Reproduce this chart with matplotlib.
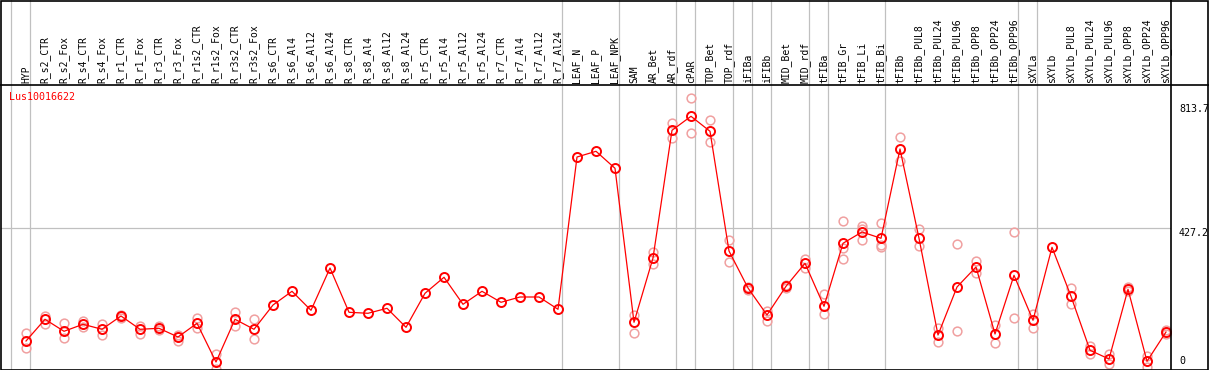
import matplotlib
matplotlib.use('Agg')
import matplotlib.pyplot as plt
from matplotlib.lines import Line2D
from matplotlib.patches import Rectangle
from matplotlib.transforms import blended_transform_factory

gene = "Lus10016622"

samples = [
    "HYP", "R_s2_CTR", "R_s2_Fox", "R_s4_CTR", "R_s4_Fox", "R_r1_CTR", "R_r1_Fox",
    "R_r3_CTR", "R_r3_Fox", "R_r1s2_CTR", "R_r1s2_Fox", "R_r3s2_CTR", "R_r3s2_Fox",
    "R_s6_CTR", "R_s6_Al4", "R_s6_Al12", "R_s6_Al24", "R_s8_CTR", "R_s8_Al4",
    "R_s8_Al12", "R_s8_Al24", "R_r5_CTR", "R_r5_Al4", "R_r5_Al12", "R_r5_Al24",
    "R_r7_CTR", "R_r7_Al4", "R_r7_Al12", "R_r7_Al24", "LEAF_N", "LEAF_P", "LEAF_NPK",
    "SAM", "AR_Bet", "AR_rdf", "cPAR", "TOP_Bet", "TOP_rdf", "iFIBa", "iFIBb",
    "MID_Bet", "MID_rdf", "tFIBa", "tFIB_Gr", "tFIB_Li", "tFIB_Bi", "tFIBb",
    "tFIBb_PUL8", "tFIBb_PUL24", "tFIBb_PUL96", "tFIBb_OPP8", "tFIBb_OPP24",
    "tFIBb_OPP96", "sXYLa", "sXYLb", "sXYLb_PUL8", "sXYLb_PUL24", "sXYLb_PUL96",
    "sXYLb_OPP8", "sXYLb_OPP24", "sXYLb_OPP96",
]

# number of samples in each block (separated by grey lines)
group_sizes = [1, 28, 3, 3, 1, 2, 1, 1, 2, 1, 3, 7, 1, 7]

means = [
    77.8, 145.1, 107.9, 129.6, 114.1, 155.3, 114.1, 117.2, 90.2, 132.7, 12.7,
    145.1, 114.1, 189.4, 231.9, 173.0, 304.1, 166.8, 163.7, 179.2, 120.3,
    225.7, 275.3, 191.6, 231.9, 197.8, 214.2, 214.2, 176.1, 648.2, 665.9, 613.2,
    135.8, 335.1, 731.0, 774.4, 727.9, 356.8, 242.1, 158.4, 247.4, 318.7,
    185.4, 380.7, 415.7, 396.2, 673.0, 396.2, 96.4, 245.2, 307.2, 99.5, 281.5,
    142.0, 368.3, 216.4, 49.0, 22.0, 238.1, 14.9, 105.7,
]

replicates = [
    [101.7, 55.2], [156.3, 131.5], [132.7, 86.2], [139.8, 121.2], [131.5, 96.4],
    [158.4, 148.2], [125.3, 100.5], [123.4, 111.0], [96.4, 77.8], [148.2, 119.0],
    [38.5, -10.0], [166.8, 123.4], [146.0, 83.1],
    [], [], [], [], [], [], [], [], [], [], [], [], [], [], [], [], [], [], [],
    [158.4, 101.7], [354.7, 316.5], [752.7, 706.2], [830.2, 721.7], [762.9, 693.8],
    [390.0, 322.7], [246.2, 235.9], [170.8, 140.8], [251.4, 242.1], [333.0, 304.1],
    [222.7, 162.5], [449.8, 365.2, 331.1], [435.3, 425.0, 390.0], [443.6, 375.4, 368.3],
    [709.3, 635.8], [424.1, 371.4], [117.2, 73.8], [377.6, 107.9], [325.8, 287.7],
    [127.4, 71.6], [414.8, 149.1], [160.6, 117.2], [], [242.1, 191.6], [62.3, 38.5],
    [36.6, 5.6], [244.3, 233.8], [32.3, -2.0], [111.9, 98.6],
]

axis_ticks = [0, 427.2, 813.7]
axis_labels = ["0", "427.2", "813.7"]

W, H = 1209, 370
mono = "DejaVu Sans Mono"

fig = plt.figure(figsize=(W / 100, H / 100), dpi=100)
ax = fig.add_axes([1 / W, 1 / H, 1170 / W, 284 / H])
ax.set_xlim(-1.316, 60.263)
ax.set_ylim(-9.0, 871.4)
for s in ax.spines.values():
    s.set_visible(False)
ax.set_yticks([])

x = list(range(len(samples)))

# block separators, extending up through the header
head = 1 + 85 / 284
bounds = [-1]
for g in group_sizes:
    bounds.append(bounds[-1] + g)
for b in bounds[:-1]:
    ax.axvline(b + 0.21, ymin=0, ymax=head, color='#c0c0c0', lw=0.9, clip_on=False, zorder=1)
ax.axhline(axis_ticks[1], color='#c0c0c0', lw=0.9, zorder=1)

for i, reps in enumerate(replicates):
    if reps:
        ax.plot([i] * len(reps), reps, 'o', ms=6.3, mfc='none', mec='#f0a0a0', mew=1.1, zorder=2)
ax.plot(x, means, '-', color='#ff0000', lw=0.9, zorder=3)
ax.plot(x, means, 'o', ms=6.5, mfc='none', mec='#ff0000', mew=1.4, zorder=4)

ax.set_xticks(x)
ax.set_xticklabels(samples, family=mono, fontsize=7)
ax.xaxis.set_ticks_position('top')
ax.tick_params(axis='x', length=0, pad=1.4, labelrotation=90, labeltop=True, labelbottom=False)

ax.annotate(gene, xy=(0, 1), xycoords='axes fraction', xytext=(6.0, -8.9),
            textcoords='offset points', va='center', ha='left', color='#ff0000',
            family=mono, fontsize=7.2)

tr = blended_transform_factory(ax.transAxes, ax.transData)
for v, lab in zip(axis_ticks, axis_labels):
    ax.text(1 + 8 / 1170, v, lab, transform=tr, ha='left',
            va='bottom' if v == 0 else 'top', family=mono, fontsize=7.2, color='black')

# outer frame, header separator and right label column divider
fig.add_artist(Rectangle((0.5 / W, 0.5 / H), 1 - 1.5 / W, 1 - 1.5 / H, transform=fig.transFigure,
                         fill=False, ec='black', lw=1.2))
fig.add_artist(Line2D([0, 1], [1 - 85 / H] * 2, transform=fig.transFigure, color='black', lw=1.2))
fig.add_artist(Line2D([1171 / W] * 2, [0, 1], transform=fig.transFigure, color='black', lw=1.2))

fig.savefig('out.png', dpi=100)
